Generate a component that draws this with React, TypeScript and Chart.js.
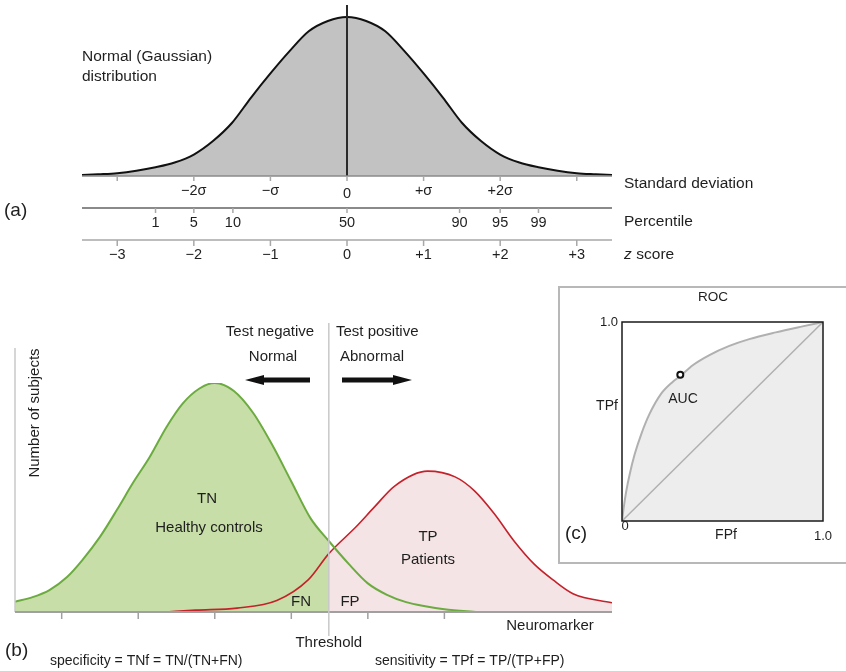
import React, { useEffect, useRef } from "react";
import { Chart, registerables } from "chart.js";
Chart.register(...registerables);

const FONT = "'Liberation Sans', Arial, Helvetica, sans-serif";
const INK = "#1e1e1e";

// ---------- Panel (a): normal distribution ----------
const zScores = [-3.46, -3.25, -3, -2.75, -2.5, -2.25, -2, -1.75, -1.5, -1.25, -1, -0.75, -0.5, -0.25, 0,
  0.25, 0.5, 0.75, 1, 1.25, 1.5, 1.75, 2, 2.25, 2.5, 2.75, 3, 3.25, 3.46];
const normalHeights = [0.6, 1.1, 1.8, 3.3, 5.5, 8.5, 13.5, 22, 33.5, 49.5, 64.5, 78.5, 91, 97.5, 100,
  97.5, 91, 78.5, 64.5, 49.5, 33.5, 22, 13.5, 8.5, 5.5, 3.3, 1.8, 1.1, 0.6];
const sigmaTicks = [-3, -2, -1, 0, 1, 2, 3];
const sigmaLabels = ["", "−2σ", "−σ", "0", "+σ", "+2σ", ""];
const zLabels = ["−3", "−2", "−1", "0", "+1", "+2", "+3"];
const percentileZ = [-2.5, -2, -1.49, 0, 1.47, 2, 2.5];
const percentileLabels = ["1", "5", "10", "50", "90", "95", "99"];

// ---------- Panel (b): healthy controls vs patients ----------
const healthyX = [0.39, 0.62, 0.84, 1.07, 1.27, 1.5, 1.72, 1.93, 2.15, 2.37, 2.58, 2.8, 3.0, 3.25, 3.5, 3.75, 4.0, 4.25, 4.49,
  4.75, 5.0, 5.25, 5.5, 5.75, 6.0, 6.44];
const healthyY = [4.5, 6.5, 9.6, 15.3, 22.7, 32.8, 44.5, 56.3, 67.7, 80.8, 91, 97.6, 100, 96.5, 87, 73, 57, 41, 31,
  21, 12.5, 7.5, 4.3, 2.5, 1.2, 0];
const patientX = [2.36, 2.75, 3.29, 3.81, 4.22, 4.49, 4.84, 5.09, 5.35, 5.78, 6.14, 6.39, 6.65, 6.91, 7.17, 7.42, 7.68, 8.19];
const patientY = [0, 0.8, 1.7, 5, 14, 25.5, 37, 46, 55, 61.5, 59, 53, 43, 31, 21, 14, 8, 4];
const THRESHOLD = 4.49;
const markerTicks = [1, 2, 3, 4, 5, 6];

// ---------- Panel (c): ROC ----------
const fpf = [0, 0.008, 0.021, 0.038, 0.063, 0.096, 0.137, 0.195, 0.253, 0.289, 0.352, 0.435, 0.534, 0.633, 0.765, 0.898, 1];
const tpf = [0, 0.064, 0.149, 0.234, 0.335, 0.437, 0.538, 0.64, 0.7, 0.728, 0.783, 0.834, 0.88, 0.914, 0.948, 0.978, 1];
const chanceX = [0, 1];
const chanceY = [0, 1];
const aucX = [0.29];
const aucY = [0.735];

const W = 846;
const H = 671;

function line(ctx: CanvasRenderingContext2D, x1: number, y1: number, x2: number, y2: number, color: string, w: number) {
  ctx.beginPath();
  ctx.strokeStyle = color;
  ctx.lineWidth = w;
  ctx.moveTo(x1, y1);
  ctx.lineTo(x2, y2);
  ctx.stroke();
}

function text(ctx: CanvasRenderingContext2D, s: string, x: number, y: number, size: number, align: CanvasTextAlign = "center", style = "") {
  ctx.font = `${style}${size}px ${FONT}`;
  ctx.textAlign = align;
  ctx.textBaseline = "middle";
  ctx.fillStyle = INK;
  ctx.fillText(s, x, y);
}

const pts = (xs: number[], ys: number[]) => xs.map((x, i) => ({ x, y: ys[i] }));

const baseOptions = (padding: any, xmin: number, xmax: number, ymin: number, ymax: number) => ({
  responsive: false,
  animation: false as const,
  events: [] as any[],
  layout: { padding },
  scales: {
    x: { type: "linear" as const, min: xmin, max: xmax, display: false },
    y: { type: "linear" as const, min: ymin, max: ymax, display: false },
  },
  plugins: { legend: { display: false }, tooltip: { enabled: false } },
});

const annotA = {
  id: "annotA",
  afterDatasetsDraw(chart: any) {
    const { ctx, scales } = chart;
    const x = scales.x, y = scales.y;
    const left = x.left, right = x.right;
    const base = y.getPixelForValue(0);
    ctx.save();
    const cx = x.getPixelForValue(0);
    line(ctx, cx, 5, cx, base, "#2a2a2a", 2);
    line(ctx, left, base, right, base, "#8a8a8a", 1.5);
    sigmaTicks.forEach((v, i) => {
      const px = x.getPixelForValue(v);
      line(ctx, px, base, px, base + 5, "#a8a8a8", 1.5);
      if (sigmaLabels[i]) text(ctx, sigmaLabels[i], px, base + (v === 0 ? 18 : 15), 14.5);
    });
    const r2 = base + 32;
    line(ctx, left, r2, right, r2, "#8a8a8a", 2);
    percentileZ.forEach((v, i) => {
      const px = x.getPixelForValue(v);
      line(ctx, px, r2, px, r2 + 5, "#a8a8a8", 1.5);
      text(ctx, percentileLabels[i], px, r2 + 15, 14.5);
    });
    const r3 = base + 64;
    line(ctx, left, r3, right, r3, "#bdbdbd", 2);
    sigmaTicks.forEach((v, i) => {
      const px = x.getPixelForValue(v);
      line(ctx, px, r3, px, r3 + 6, "#a8a8a8", 1.5);
      text(ctx, zLabels[i], px, r3 + 15, 14.5);
    });
    text(ctx, "Standard deviation", 624, 184, 15.5, "left");
    text(ctx, "Percentile", 624, 222, 15.5, "left");
    text(ctx, "z", 624, 255, 15.5, "left", "italic ");
    text(ctx, " score", 632, 255, 15.5, "left");
    text(ctx, "(a)", 4, 211, 19, "left");
    text(ctx, "Normal (Gaussian)", 82, 57, 15.5, "left");
    text(ctx, "distribution", 82, 77, 15.5, "left");
    ctx.restore();
  },
};

const annotB = {
  id: "annotB",
  afterDatasetsDraw(chart: any) {
    const { ctx, scales } = chart;
    const x = scales.x, y = scales.y;
    const base = y.getPixelForValue(0);
    const tx = x.getPixelForValue(THRESHOLD);
    ctx.save();
    line(ctx, x.left, 348, x.left, base, "#c8c8c8", 1.5);
    line(ctx, x.left, base, x.right, base, "#a0a0a0", 2);
    markerTicks.forEach((v) => {
      const px = x.getPixelForValue(v);
      line(ctx, px, base, px, base + 7, "#a0a0a0", 1.5);
    });
    line(ctx, tx, 323, tx, 636, "#c8c8c8", 1.5);
    // arrows
    ctx.fillStyle = "#111";
    ctx.beginPath();
    ctx.moveTo(245, 380);
    ctx.lineTo(264, 375);
    ctx.lineTo(264, 377.5);
    ctx.lineTo(310, 377.5);
    ctx.lineTo(310, 382.5);
    ctx.lineTo(264, 382.5);
    ctx.lineTo(264, 385);
    ctx.closePath();
    ctx.fill();
    ctx.beginPath();
    ctx.moveTo(412, 380);
    ctx.lineTo(393, 375);
    ctx.lineTo(393, 377.5);
    ctx.lineTo(342, 377.5);
    ctx.lineTo(342, 382.5);
    ctx.lineTo(393, 382.5);
    ctx.lineTo(393, 385);
    ctx.closePath();
    ctx.fill();

    text(ctx, "Test negative", 270, 332, 15);
    text(ctx, "Normal", 273, 357, 15);
    text(ctx, "Test positive", 336, 332, 15, "left");
    text(ctx, "Abnormal", 372, 357, 15);
    text(ctx, "TN", 207, 499, 15);
    text(ctx, "Healthy controls", 209, 528, 15);
    text(ctx, "TP", 428, 537, 15);
    text(ctx, "Patients", 428, 560, 15);
    text(ctx, "FN", 301, 602, 15);
    text(ctx, "FP", 350, 602, 15);
    text(ctx, "Neuromarker", 550, 626, 15);
    text(ctx, "Threshold", tx, 643, 15);
    text(ctx, "(b)", 5, 651, 19, "left");
    text(ctx, "specificity = TNf = TN/(TN+FN)", 50, 661, 14, "left");
    text(ctx, "sensitivity = TPf = TP/(TP+FP)", 375, 661, 14, "left");
    ctx.save();
    ctx.translate(35, 413);
    ctx.rotate(-Math.PI / 2);
    text(ctx, "Number of subjects", 0, 0, 15);
    ctx.restore();
    ctx.restore();
  },
};

const annotC = {
  id: "annotC",
  beforeDatasetsDraw(chart: any) {
    const { ctx } = chart;
    ctx.save();
    ctx.strokeStyle = "#b8b8b8";
    ctx.lineWidth = 2;
    ctx.strokeRect(559, 287, 300, 276);
    ctx.restore();
  },
  afterDatasetsDraw(chart: any) {
    const { ctx, chartArea: a } = chart;
    ctx.save();
    ctx.strokeStyle = "#1a1a1a";
    ctx.lineWidth = 1.5;
    ctx.strokeRect(a.left, a.top, a.right - a.left, a.bottom - a.top);
    text(ctx, "ROC", 713, 297, 13.5);
    text(ctx, "1.0", a.left - 4, a.top, 13, "right");
    text(ctx, "TPf", 607, 406, 14);
    text(ctx, "0", a.left + 3, a.bottom + 5, 13);
    text(ctx, "FPf", 726, 535, 14);
    text(ctx, "1.0", a.right, 536, 13);
    text(ctx, "AUC", 683, 399, 14);
    text(ctx, "(c)", 565, 534, 19, "left");
    ctx.restore();
  },
};

function useChart(ref: React.RefObject<HTMLCanvasElement | null>, make: () => any) {
  useEffect(() => {
    if (!ref.current) return;
    const chart = new Chart(ref.current, make());
    return () => chart.destroy();
  }, []);
}

export default function App() {
  const aRef = useRef<HTMLCanvasElement>(null);
  const bRef = useRef<HTMLCanvasElement>(null);
  const cRef = useRef<HTMLCanvasElement>(null);

  useChart(aRef, () => ({
    type: "line",
    data: {
      datasets: [
        {
          data: pts(zScores, normalHeights),
          borderColor: "#111",
          borderWidth: 2,
          backgroundColor: "#c2c2c2",
          fill: "origin",
          pointRadius: 0,
          cubicInterpolationMode: "monotone",
          clip: 6,
        },
      ],
    },
    options: baseOptions({ left: 82, right: W - 612, top: 17, bottom: H - 176 }, -3.46, 3.46, 0, 100),
    plugins: [annotA],
  }));

  useChart(bRef, () => {
    const healthy = pts(healthyX, healthyY);
    const patients = pts(patientX, patientY);
    return {
      type: "line",
      data: {
        datasets: [
          {
            data: patients.filter((p) => p.x >= THRESHOLD),
            borderWidth: 0,
            backgroundColor: "#f4e4e5",
            fill: "origin",
            pointRadius: 0,
            cubicInterpolationMode: "monotone",
            order: 4,
          },
          {
            data: healthy.filter((p) => p.x <= THRESHOLD),
            borderWidth: 0,
            backgroundColor: "#c7dea9",
            fill: "origin",
            pointRadius: 0,
            cubicInterpolationMode: "monotone",
            order: 3,
          },
          {
            data: patients,
            borderColor: "#c4212b",
            borderWidth: 1.6,
            fill: false,
            pointRadius: 0,
            cubicInterpolationMode: "monotone",
            order: 2,
          },
          {
            data: healthy,
            borderColor: "#6cab3f",
            borderWidth: 2,
            fill: false,
            pointRadius: 0,
            cubicInterpolationMode: "monotone",
            order: 1,
          },
        ],
      },
      options: baseOptions({ left: 15, right: W - 612, top: 383, bottom: H - 612 }, 0.39, 8.19, 0, 100),
      plugins: [annotB],
    };
  });

  useChart(cRef, () => ({
    type: "line",
    data: {
      datasets: [
        {
          data: pts(aucX, aucY),
          showLine: false,
          pointRadius: 3,
          pointBorderWidth: 2,
          pointBorderColor: "#111",
          pointBackgroundColor: "#ffffff",
          order: 0,
        },
        {
          data: pts(chanceX, chanceY),
          borderColor: "#b0b0b0",
          borderWidth: 1.5,
          fill: false,
          pointRadius: 0,
          order: 1,
        },
        {
          data: pts(fpf, tpf),
          borderColor: "#b0b0b0",
          borderWidth: 2,
          backgroundColor: "#ededed",
          fill: "origin",
          pointRadius: 0,
          cubicInterpolationMode: "monotone",
          order: 2,
        },
      ],
    },
    options: baseOptions({ left: 622, right: W - 823, top: 322, bottom: H - 521 }, 0, 1, 0, 1),
    plugins: [annotC],
  }));

  const cs: React.CSSProperties = { position: "absolute", left: 0, top: 0 };
  return (
    <div style={{ position: "absolute", left: 0, top: 0, width: W, height: H, background: "#fff", overflow: "hidden" }}>
      <canvas ref={aRef} width={W} height={H} style={cs} />
      <canvas ref={bRef} width={W} height={H} style={cs} />
      <canvas ref={cRef} width={W} height={H} style={cs} />
    </div>
  );
}
